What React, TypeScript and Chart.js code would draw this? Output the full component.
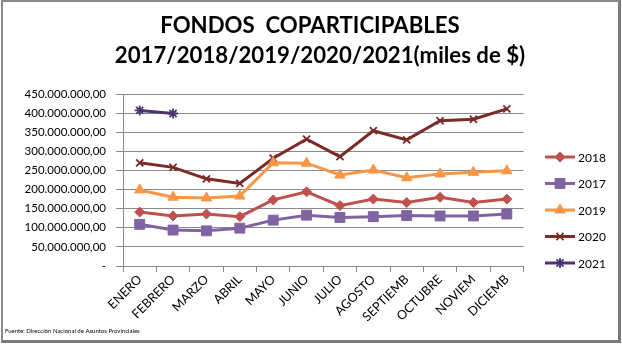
import React, { useEffect, useRef } from 'react';
import { Chart, registerables } from 'chart.js';
import { drawPoint } from 'chart.js/helpers';

Chart.register(...registerables);

const months = ['ENERO', 'FEBRERO', 'MARZO', 'ABRIL', 'MAYO', 'JUNIO', 'JULIO', 'AGOSTO', 'SEPTIEMB', 'OCTUBRE', 'NOVIEM', 'DICIEMB'];
// values in millions of (miles de $)
const s2018 = [141, 131, 136, 129, 173, 194, 158, 175, 166, 180, 166, 175];
const s2017 = [109, 94, 92, 99, 120, 133, 127, 129, 132, 131, 131, 136];
const s2019 = [199, 180, 178, 183, 270, 269, 238, 251, 231, 241, 245, 249];
const s2020 = [270, 258, 228, 216, 282, 332, 286, 354, 330, 380, 384, 411];
const s2021 = [407, 399, null, null, null, null, null, null, null, null, null, null];
const seriesNames = ['2018', '2017', '2019', '2020', '2021'];
const titleLines = ['FONDOS  COPARTICIPABLES', '2017/2018/2019/2020/2021(miles de $)'];
const footerText = 'Fuente: Dirección Nacional de Asuntos Provinciales';

const FONT = 'Lato';
const GRID = '#8a8a8a';

function fmt(m: number): string {
  if (m === 0) return '-';
  const n = Math.round(m * 1000000);
  return String(n).replace(/\B(?=(\d{3})+(?!\d))/g, '.') + ',00';
}

const styles = [
  { color: '#c0504d', point: 'rectRot', radius: 5 },
  { color: '#8064a2', point: 'rect', radius: 7 },
  { color: '#f79646', point: 'triangle', radius: 6 },
  { color: '#7a2a28', point: 'crossRot', radius: 5 },
  { color: '#4b3470', point: 'star', radius: 5 },
];

const decorPlugin = {
  id: 'decor',
  afterDraw(chart: any) {
    const ctx = chart.ctx;
    ctx.save();
    // title
    ctx.fillStyle = '#000';
    ctx.font = `bold 22.2px ${FONT}`;
    ctx.textAlign = 'center';
    ctx.textBaseline = 'alphabetic';
    ctx.fillText(titleLines[0], 310, 33);
    ctx.fillText(titleLines[1], 320, 63);
    // legend
    const ys = [157, 183.5, 210, 236.5, 263];
    chart.data.datasets.forEach((ds: any, i: number) => {
      const y = ys[i];
      ctx.strokeStyle = ds.borderColor;
      ctx.lineWidth = 3;
      ctx.beginPath();
      ctx.moveTo(545, y);
      ctx.lineTo(575, y);
      ctx.stroke();
      ctx.fillStyle = ds.pointBackgroundColor;
      ctx.strokeStyle = ds.pointBorderColor;
      ctx.lineWidth = ds.pointBorderWidth;
      drawPoint(ctx, { pointStyle: ds.pointStyle, radius: ds.pointRadius, borderWidth: ds.pointBorderWidth, rotation: 0 }, 560, y);
      ctx.fillStyle = '#000';
      ctx.font = `12px ${FONT}`;
      ctx.textBaseline = 'middle';
      ctx.textAlign = 'left';
      ctx.fillText(ds.label, 578, y + 1);
    });
    // footer
    ctx.font = `6px ${FONT}`;
    ctx.fillStyle = '#000';
    ctx.textAlign = 'left';
    ctx.textBaseline = 'middle';
    ctx.fillText(footerText, 5, 331);
    ctx.restore();
  },
};

export default function App() {
  const ref = useRef<HTMLCanvasElement | null>(null);
  useEffect(() => {
    if (!ref.current) return;
    const data = [s2018, s2017, s2019, s2020, s2021];
    const chart = new Chart(ref.current, {
      type: 'line',
      data: {
        labels: months,
        datasets: data.map((d, i) => ({
          label: seriesNames[i],
          data: d,
          borderColor: styles[i].color,
          backgroundColor: styles[i].color,
          pointBackgroundColor: styles[i].color,
          pointBorderColor: styles[i].color,
          pointBorderWidth: styles[i].point === 'crossRot' || styles[i].point === 'star' ? 1.8 : 1,
          pointStyle: styles[i].point as any,
          pointRadius: styles[i].radius,
          borderWidth: 3,
          tension: 0,
          spanGaps: false,
        })),
      },
      options: {
        animation: false,
        responsive: false,
        maintainAspectRatio: false,
        layout: { padding: { left: 0, right: 98.5, top: 94, bottom: 0 } },
        plugins: {
          legend: { display: false },
          tooltip: { enabled: false },
          title: { display: false },
        },
        scales: {
          x: {
            offset: true,
            afterFit: (s: any) => { s.height = 84; },
            grid: { display: true, drawOnChartArea: false, drawTicks: true, tickLength: 6, offset: true, color: GRID },
            border: { display: true, color: GRID, width: 1 },
            ticks: { minRotation: 45, maxRotation: 45, color: '#000', font: { family: FONT, size: 12.5 }, padding: 0, autoSkip: false },
          },
          y: {
            min: 0,
            max: 450,
            afterFit: (s: any) => { s.width = 123; },
            grid: { color: GRID, drawTicks: true, tickLength: 7 },
            border: { display: true, color: GRID, width: 1 },
            ticks: { stepSize: 50, color: '#000', font: { family: FONT, size: 11.5 }, padding: 10, callback: (v: any) => fmt(Number(v)) },
          },
        },
      },
      plugins: [decorPlugin],
    });
    return () => chart.destroy();
  }, []);
  return (
    <div style={{ position: 'absolute', left: 0, top: 0, width: 622, height: 350, background: '#fff' }}>
      <canvas ref={ref} width={622} height={350} style={{ position: 'absolute', left: 0, top: 0, width: 622, height: 350 }} />
      <div style={{ position: 'absolute', left: 1, top: 0, width: 620, height: 343, boxSizing: 'border-box', borderTop: '2px solid #8a8a8a', borderLeft: '2px solid #8a8a8a', borderRight: '3px solid #7a7a7a', borderBottom: '3px solid #7a7a7a', pointerEvents: 'none' }} />
    </div>
  );
}
